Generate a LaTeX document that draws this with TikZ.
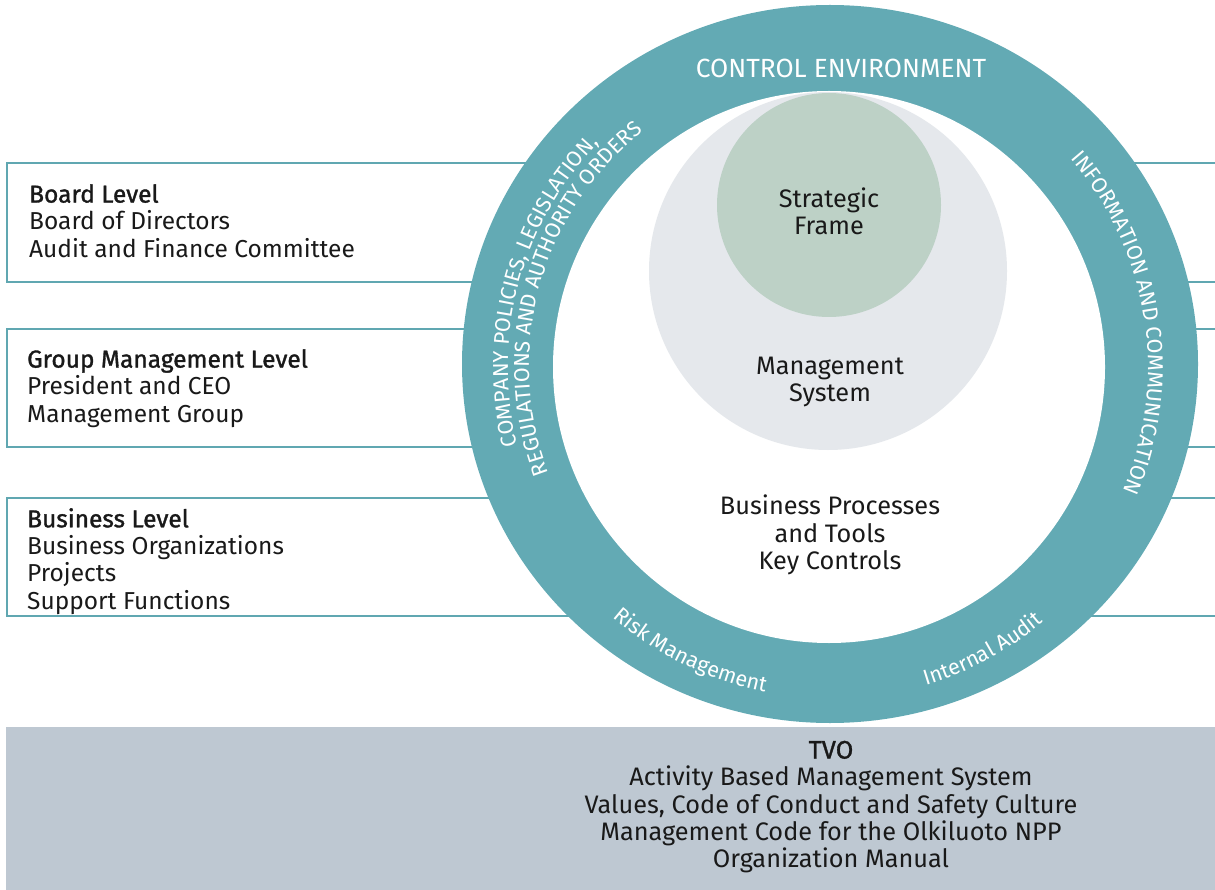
\documentclass[tikz,border=0pt]{standalone}
\usepackage{fontspec}
\setmainfont{Fira Sans}[BoldFont=Fira Sans, BoldFeatures={FakeBold=1.3}]
\usetikzlibrary{decorations.text}
\definecolor{ringteal}{RGB}{99,170,180}
\definecolor{boxteal}{RGB}{96,167,177}
\definecolor{mgmtgrey}{RGB}{229,232,236}
\definecolor{stratgreen}{RGB}{189,209,198}
\definecolor{bandgrey}{RGB}{190,200,210}
\definecolor{txt}{RGB}{25,25,25}
\newcommand{\bodyfnt}{\fontsize{24.5}{27.3}\selectfont}
\newcommand{\ctrfnt}{\fontsize{25.3}{27.3}\selectfont}
\newcommand{\ringfnt}{\fontsize{21.5}{22}\selectfont}
\newcommand{\arcfnt}{\fontsize{21.5}{24}\selectfont}
\begin{document}
\begin{tikzpicture}[x=1pt,y=1pt,
  lvl/.style={anchor=north west, align=left, font=\bodyfnt, text=txt, inner sep=0pt},
  ctr/.style={align=center, font=\ctrfnt, text=txt, inner sep=0pt},
  lvlbox/.style={draw=boxteal, line width=2.6pt},
]
\useasboundingbox (0,0) rectangle (1215,-890);
% level boxes (open to the right, behind the ring)
\draw[lvlbox] (1240,-163) -- (7,-163) -- (7,-282) -- (1240,-282);
\draw[lvlbox] (1240,-329) -- (7,-329) -- (7,-447) -- (1240,-447);
\draw[lvlbox] (1240,-498) -- (7,-498) -- (7,-616) -- (1240,-616);
% ring and circles
\fill[ringteal] (830,-364) ellipse [x radius=368, y radius=359];
\coordinate (C) at (829,-367);
\fill[white] (C) circle (276);
\fill[mgmtgrey] (828,-271) circle (179);
\fill[stratgreen] (829,-205) circle (112);
% bottom band
\fill[bandgrey] (6,-727) rectangle (1215,-890);
% texts in boxes
\node[lvl] (board) at (29,-184) {\bfseries Board Level\\Board of Directors\\Audit and Finance Committee};
\node[lvl] (group) at (27,-349) {\bfseries Group Management Level\\President and CEO\\Management Group};
\node[lvl] (business) at (27,-508) {\bfseries Business Level\\Business Organizations\\Projects\\Support Functions};
% inner texts
\node[ctr] (strategic) at (829,-211) {Strategic\\Frame};
\node[ctr] (mgmt) at (830,-382) {Management\\System};
\node[ctr] (proc) at (830,-535) {Business Processes\\and Tools\\Key Controls};
\node[ctr] (tvo) at (831,-807) {\bfseries TVO\\Activity Based Management System\\Values, Code of Conduct and Safety Culture\\Management Code for the Olkiluoto NPP\\Organization Manual};
% ring texts
\node[font=\fontsize{26.3}{28}\selectfont, text=white, inner sep=0pt] (ctrl) at (841,-68) {CONTROL ENVIRONMENT};
\path[decorate, decoration={text along path, text align=center, text color=white,
  text={|\ringfnt|COMPANY POLICIES, LEGISLATION,}}]
  (C) ++(205:321) arc[start angle=205, end angle=125, radius=321];
\path[decorate, decoration={text along path, text align=center, text color=white,
  text={|\ringfnt|REGULATIONS AND AUTHORITY ORDERS}}]
  (C) ++(210:300) arc[start angle=210, end angle=119, radius=300];
\path[decorate, decoration={text along path, text align=center, text color=white,
  text={|\ringfnt|INFORMATION AND COMMUNICATION}}]
  (C) ++(48:319) arc[start angle=48, end angle=-30, radius=319];
\path[decorate, decoration={text along path, text align=center, text color=white,
  text={|\arcfnt|Risk Management}}]
  (C) ++(222:331) arc[start angle=222, end angle=266, radius=331];
\path[decorate, decoration={text along path, text align=center, text color=white,
  text={|\arcfnt|Internal Audit}}]
  (C) ++(280:333) arc[start angle=280, end angle=317, radius=333];
\end{tikzpicture}
\end{document}
